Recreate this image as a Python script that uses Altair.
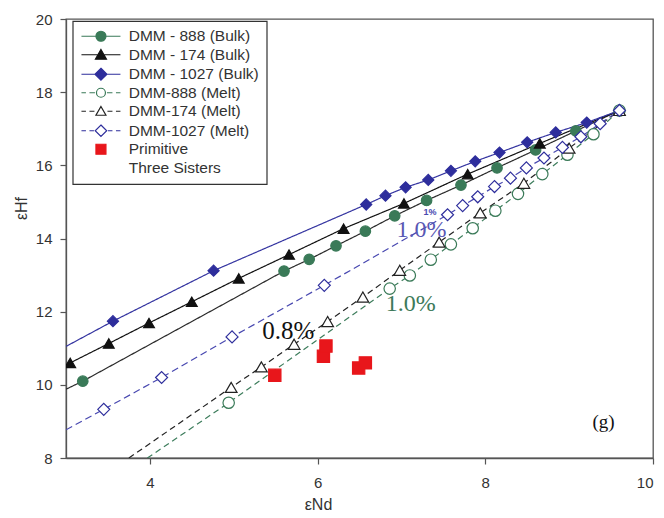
import altair as alt
import pandas as pd

# ---------------- data ----------------
series_names = ["DMM - 888 (Bulk)", "DMM - 174 (Bulk)", "DMM - 1027 (Bulk)",
                "DMM-888 (Melt)", "DMM-174 (Melt)", "DMM-1027 (Melt)",
                "Primitive", "Three Sisters"]

bulk888_x = [3.2, 5.6, 5.9, 6.22, 6.57, 6.92, 7.3, 7.71, 8.14, 8.6, 9.08, 9.6]
bulk888_y = [10.1, 13.11, 13.43, 13.8, 14.2, 14.62, 15.04, 15.46, 15.93, 16.42, 16.94, 17.5]

bulk174_x = [3.05, 3.51, 3.99, 4.5, 5.06, 5.66, 6.31, 7.03, 7.79, 8.65, 9.6]
bulk174_y = [10.6, 11.13, 11.69, 12.27, 12.91, 13.56, 14.27, 14.96, 15.76, 16.6, 17.5]

bulk1027_x = [3.56, 4.76, 6.58, 6.81, 7.05, 7.32, 7.59, 7.88, 8.17, 8.5, 8.84, 9.21, 9.6]
bulk1027_y = [11.74, 13.12, 14.93, 15.17, 15.4, 15.6, 15.85, 16.11, 16.35, 16.63, 16.9, 17.17, 17.5]

melt888_x = [4.94, 6.86, 7.1, 7.35, 7.59, 7.85, 8.12, 8.39, 8.68, 8.98, 9.29, 9.6]
melt888_y = [9.51, 12.63, 12.99, 13.42, 13.84, 14.28, 14.76, 15.22, 15.76, 16.29, 16.85, 17.5]

melt174_x = [4.97, 5.33, 5.72, 6.12, 6.54, 6.98, 7.45, 7.94, 8.46, 9.0, 9.6]
melt174_y = [9.93, 10.49, 11.11, 11.73, 12.4, 13.13, 13.9, 14.7, 15.51, 16.47, 17.5]

melt1027_x = [3.45, 4.14, 4.98, 6.08, 7.55, 7.73, 7.91, 8.11, 8.3, 8.49, 8.7, 8.92, 9.14, 9.37, 9.6]
melt1027_y = [9.33, 10.2, 11.31, 12.72, 14.65, 14.9, 15.14, 15.42, 15.65, 15.93, 16.2, 16.49, 16.78, 17.14, 17.5]

red_x = [5.49, 6.07, 6.1, 6.49, 6.57]
red_y = [10.26, 10.78, 11.06, 10.46, 10.6]

# where each curve enters the plot frame (lines continue past the first marker)
line_start_x = [3.0, 3.0, 3.0, 3.97, 3.75, 3.0]
line_start_y = [9.88, 10.54, 11.05, 8.0, 8.0, 8.77]

ann_text = ["0.8%", "1.0%", "1.0%", "(g)"]
ann_x = [5.65, 7.11, 7.24, 9.41]
ann_y = [11.46, 12.2, 14.24, 8.99]

small_text = ["1%"]
small_x = [7.34]
small_y = [14.72]

x_ticks = [4, 6, 8, 10]
y_ticks = [8, 10, 12, 14, 16, 18, 20]

# ---------------- styles ----------------
GREEN = "#3a7a58"
BLUE = "#2e2e9c"
BLACK = "#111111"
RED = "#e8161b"

curve_x = [bulk888_x, bulk174_x, bulk1027_x, melt888_x, melt174_x, melt1027_x]
curve_y = [bulk888_y, bulk174_y, bulk1027_y, melt888_y, melt174_y, melt1027_y]

line_rows = []
for i, (xs, ys) in enumerate(zip(curve_x, curve_y)):
    name = series_names[i]
    line_rows.append({"series": name, "x": line_start_x[i], "y": line_start_y[i], "o": 0})
    for k, (xv, yv) in enumerate(zip(xs, ys)):
        line_rows.append({"series": name, "x": xv, "y": yv, "o": k + 1})
lines_df = pd.DataFrame(line_rows)

point_rows = []
for i, (xs, ys) in enumerate(zip(curve_x, curve_y)):
    for xv, yv in zip(xs, ys):
        point_rows.append({"series": series_names[i], "x": xv, "y": yv})
for xv, yv in zip(red_x, red_y):
    point_rows.append({"series": "Primitive", "x": xv, "y": yv})
points_df = pd.DataFrame(point_rows)
# draw melt diamonds last (on top at the convergence point)
order_map = {n: i for i, n in enumerate([series_names[k] for k in [0, 1, 2, 6, 3, 4, 5]])}
points_df["draw"] = points_df["series"].map(order_map)
points_df = points_df.sort_values("draw", kind="stable").reset_index(drop=True)

ann_df = pd.DataFrame({"t": ann_text, "x": ann_x, "y": ann_y,
                       "c": [BLACK, "#3d7a5a", "#5858b4", BLACK],
                       "s": [25, 24, 24, 19]})
small_df = pd.DataFrame({"t": small_text, "x": small_x, "y": small_y})

line_domain = series_names[:6]
line_colors = ["#2a2a2a", BLACK, "#3434a0", "#3d7d5c", "#222222", "#4848b0"]
line_dash = [[1, 0], [1, 0], [1, 0], [6, 4], [6, 4], [7, 4]]

pt_domain = series_names[:7]
pt_fill = [GREEN, BLACK, BLUE, "white", "white", "white", RED]
pt_stroke = [GREEN, BLACK, BLUE, GREEN, "#222222", BLUE, RED]
pt_shape = ["circle", "triangle-up", "diamond", "circle", "triangle-up", "diamond", "square"]
pt_size = [110, 150, 165, 95, 130, 140, 115]


# legend glyph paths (line + marker), unit = sqrt(symbolSize)/2 px
MC = 2.6     # marker centre
L0, L1 = -1.3, 6.5


def f(v):
    return f"{v:.2f}"


def solid(gap):
    return f"M{f(L0)},0L{f(MC-gap)},0M{f(MC+gap)},0L{f(L1)},0"


def dashed(gap):
    segs = []
    left = [(L0, L0 + 0.9), (L0 + 1.6, MC - gap - 0.2)]
    right = [(MC + gap + 0.2, L1 - 1.6), (L1 - 0.9, L1)]
    for a, b in left + right:
        segs.append(f"M{f(a)},0L{f(b)},0")
    return "".join(segs)


def circle(r):
    return (f"M{f(MC-r)},0A{r},{r} 0 1,1 {f(MC+r)},0"
            f"A{r},{r} 0 1,1 {f(MC-r)},0Z")


def tri(r):
    return f"M{f(MC)},{f(-0.95*r)}L{f(MC+r)},{f(0.8*r)}L{f(MC-r)},{f(0.8*r)}Z"


def dia(r):
    return f"M{f(MC)},{f(-r)}L{f(MC+r)},0L{f(MC)},{f(r)}L{f(MC-r)},0Z"


def sq(r):
    return f"M{f(MC-r)},{f(-r)}L{f(MC+r)},{f(-r)}L{f(MC+r)},{f(r)}L{f(MC-r)},{f(r)}Z"


leg_shape = [
    solid(0.5) + circle(1.0),
    solid(0.5) + tri(1.1),
    solid(0.5) + dia(1.2),
    dashed(1.0) + circle(0.9),
    dashed(1.1) + tri(1.0),
    dashed(1.2) + dia(1.15),
    sq(1.0),
    "M0,0",
]
leg_fill = pt_fill + ["transparent"]
leg_stroke = [GREEN, BLACK, BLUE, GREEN, "#222222", BLUE, RED, "transparent"]

# ---------------- chart ----------------
xs = alt.Scale(domain=[3, 10], nice=False)
ys = alt.Scale(domain=[8, 20], nice=False)

x_axis = alt.Axis(values=x_ticks, format="d", title="εNd", titleX=252, titleY=51,
                  titleBaseline="alphabetic", labelPadding=11)
y_axis = alt.Axis(values=y_ticks, format="d", title="εHf", titleX=-40, titleY=189,
                  titleAngle=-90, titleBaseline="alphabetic", titleAlign="center",
                  labelPadding=8)

lines = alt.Chart(lines_df).mark_line(clip=True, strokeWidth=1.2).encode(
    x=alt.X("x:Q", scale=xs, axis=x_axis),
    y=alt.Y("y:Q", scale=ys, axis=y_axis),
    color=alt.Color("series:N", scale=alt.Scale(domain=line_domain, range=line_colors), legend=None),
    strokeDash=alt.StrokeDash("series:N", scale=alt.Scale(domain=line_domain, range=line_dash), legend=None),
    order="o:Q",
)

points = alt.Chart(points_df).mark_point(opacity=1, strokeWidth=1.2, clip=True).encode(
    x=alt.X("x:Q", scale=xs),
    y=alt.Y("y:Q", scale=ys),
    shape=alt.Shape("series:N", scale=alt.Scale(domain=pt_domain, range=pt_shape), legend=None),
    fill=alt.Fill("series:N", scale=alt.Scale(domain=pt_domain, range=pt_fill), legend=None),
    stroke=alt.Stroke("series:N", scale=alt.Scale(domain=pt_domain, range=pt_stroke), legend=None),
    size=alt.Size("series:N", scale=alt.Scale(domain=pt_domain, range=pt_size), legend=None),
    order="draw:Q",
)

texts = alt.Chart(ann_df).mark_text(font="Liberation Serif", align="center", baseline="middle").encode(
    x=alt.X("x:Q", scale=xs),
    y=alt.Y("y:Q", scale=ys),
    text="t:N",
    color=alt.Color("c:N", scale=None),
    size=alt.Size("s:Q", scale=None),
)

small = alt.Chart(small_df).mark_text(font="Liberation Sans", fontWeight="bold", fontSize=9,
                                       color="#4848b0", align="center", baseline="middle").encode(
    x=alt.X("x:Q", scale=xs),
    y=alt.Y("y:Q", scale=ys),
    text="t:N",
)

leg = alt.Legend(orient="none", legendX=6.7, legendY=2, title=None)
legend_layer = alt.Chart(points_df).transform_filter("false").mark_point(opacity=1).encode(
    x=alt.X("x:Q", scale=xs),
    y=alt.Y("y:Q", scale=ys),
    shape=alt.Shape("series:N", scale=alt.Scale(domain=series_names, range=leg_shape), legend=leg),
    fill=alt.Fill("series:N", scale=alt.Scale(domain=series_names, range=leg_fill), legend=leg),
    stroke=alt.Stroke("series:N", scale=alt.Scale(domain=series_names, range=leg_stroke), legend=leg),
)

chart = alt.layer(lines, points, texts, small, legend_layer).resolve_scale(
    color="independent", fill="independent", stroke="independent",
    shape="independent", size="independent", strokeDash="independent",
).properties(
    width=587, height=439,
    padding={"left": 66, "top": 19, "right": 11, "bottom": 60},
    autosize=alt.AutoSizeParams(type="none"),
    background="white",
).configure_view(
    stroke="#555555", strokeWidth=1.3,
).configure_axis(
    grid=False, domainColor="#555555", domainWidth=1.3, tickColor="#555555",
    tickWidth=1.2, tickSize=6, labelFont="Liberation Sans", labelFontSize=15,
    labelColor="#333333", titleFont="Liberation Sans", titleFontSize=16,
    titleFontWeight="normal", titleColor="#333333",
).configure_legend(
    fillColor="white", strokeColor="#333333", strokeWidth=1.2, padding=7.5,
    rowPadding=1.5, symbolSize=100, symbolStrokeWidth=1.2, labelFont="Liberation Sans",
    labelFontSize=15.5, labelColor="#333333", labelOffset=33, labelLimit=400,
)

chart.save("out.html", embed_options={"renderer": "svg", "actions": False})
